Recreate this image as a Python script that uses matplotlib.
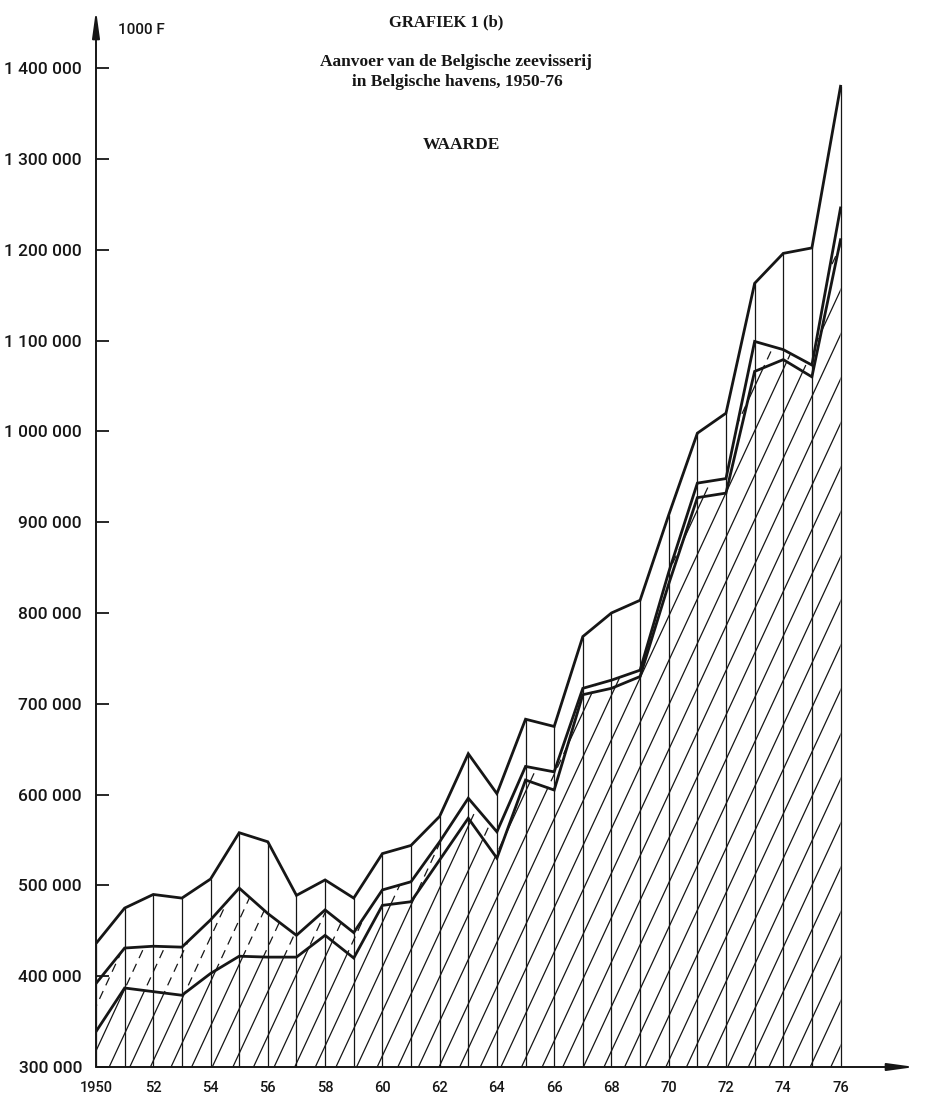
import numpy as np
import matplotlib
matplotlib.use("Agg")
import matplotlib.pyplot as plt
from matplotlib.collections import LineCollection

# Aanvoer Belgische zeevisserij, waarde in 1000 F
years = np.arange(1950, 1977)
totaal = [436, 475, 490, 486, 507, 558, 548, 489, 506, 486, 535, 544, 576, 645,
          601, 683, 675, 774, 800, 814, 908, 998, 1020, 1163, 1196, 1202, 1380]
lijn2 = [392, 431, 433, 432, 462, 497, 469, 445, 473, 448, 495, 504, 548, 596,
         559, 631, 625, 717, 726, 737, 845, 943, 948, 1099, 1090, 1073, 1246]
lijn3 = [339, 387, 383, 379, 403, 422, 421, 421, 445, 420, 478, 482, 528, 574,
         530, 616, 605, 710, 717, 730, 832, 927, 932, 1066, 1079, 1060, 1211]
yticks = np.arange(300, 1401, 100)
ytick_labels = ["%d 000" % v if v < 1000 else "1 %03d 000" % (v - 1000) for v in yticks]
xticks = np.arange(1950, 1977, 2)
xtick_labels = ["1950"] + ["%02d" % (y % 100) for y in xticks[1:]]

ink = "#161616"
fig = plt.figure(figsize=(9.25, 10.98), dpi=100)
ax = fig.add_axes([96/925, 31/1098, 819/925, 1057/1098])
ax.set_xlim(1950, 1978.6)
ax.set_ylim(300, 1464)

# --- hatch lines (steep, same for both bands) ---
slope = 68.0
offsets = np.arange(1930.3, 1977, 0.72)
segs = [[(c, 300), (c + 1200/slope, 1500)] for c in offsets]

band_low = ax.fill_between(years, 300, lijn3, facecolor="none", edgecolor="none")
band_mid = ax.fill_between(years, lijn3, lijn2, facecolor="none", edgecolor="none")

h1 = LineCollection(segs, colors=ink, linewidths=0.9)
ax.add_collection(h1)
h1.set_clip_path(band_low.get_paths()[0], ax.transData)

h2 = LineCollection(segs, colors=ink, linewidths=0.9, linestyles=[(0, (7, 5))])
ax.add_collection(h2)
h2.set_clip_path(band_mid.get_paths()[0], ax.transData)

# vertical year lines
ax.vlines(years, 300, totaal, colors=ink, linewidth=0.9)

# main lines
for s in (totaal, lijn2, lijn3):
    ax.plot(years, s, color=ink, linewidth=2.0, solid_joinstyle="miter")

# axes with arrows
for side in ("top", "right", "left", "bottom"):
    ax.spines[side].set_visible(False)
ax.annotate("", xy=(0, 1.0), xytext=(0, 0), xycoords="axes fraction",
            arrowprops=dict(arrowstyle="-|>,head_length=1.6,head_width=0.22",
                            color=ink, lw=1.4, shrinkA=0, shrinkB=0))
ax.annotate("", xy=(1.0, 0), xytext=(0, 0), xycoords="axes fraction",
            arrowprops=dict(arrowstyle="-|>,head_length=1.6,head_width=0.22",
                            color=ink, lw=1.4, shrinkA=0, shrinkB=0))

ax.set_yticks(yticks)
ax.set_yticklabels(ytick_labels, family="Roboto", fontweight="medium", fontsize=12.5)
ax.tick_params(axis="y", direction="in", length=9, width=1.3, color=ink, pad=10,
               labelcolor=ink)
ax.set_xticks(xticks)
ax.set_xticklabels(xtick_labels, family="Roboto", fontweight="medium", fontsize=10.5)
ax.tick_params(axis="x", length=0, pad=10, labelcolor=ink)

fig.text(118/925, 1 - 30/1098, "1000 F", family="Roboto", fontweight="medium",
         fontsize=11, color=ink, va="center")

serif = "Liberation Serif"
fig.text(446/925, 1 - 22/1098, "GRAFIEK 1 (b)", family=serif, fontweight="bold",
         fontsize=12, ha="center", va="center", color=ink)
fig.text(456/925, 1 - 62/1098, "Aanvoer van de Belgische zeevisserij", family=serif,
         fontweight="bold", fontsize=12.5, ha="center", va="center", color=ink)
fig.text(457/925, 1 - 82/1098, "in Belgische havens, 1950-76", family=serif,
         fontweight="bold", fontsize=12.5, ha="center", va="center", color=ink)
fig.text(461/925, 1 - 145/1098, "WAARDE", family=serif, fontweight="bold",
         fontsize=12.5, ha="center", va="center", color=ink)

fig.savefig("out.png", dpi=100)
